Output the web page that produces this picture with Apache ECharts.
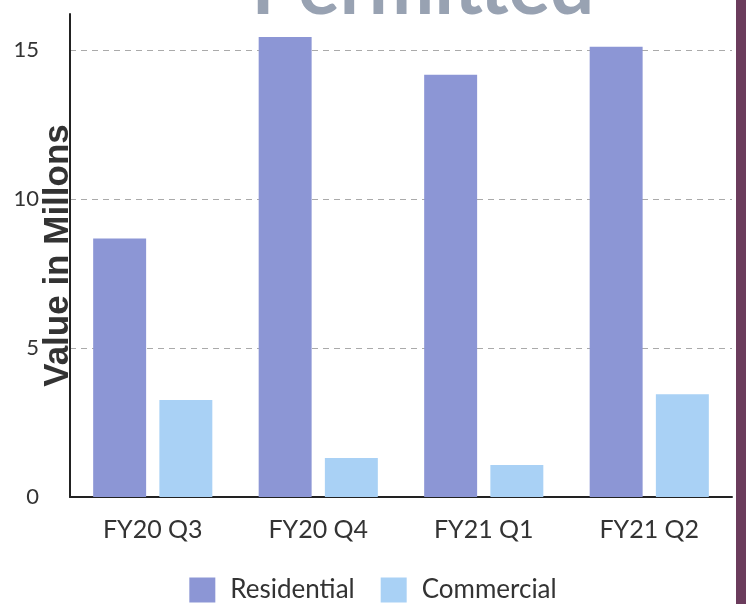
<!DOCTYPE html>
<html><head><meta charset="utf-8">
<script src="https://cdn.jsdelivr.net/npm/echarts@6/dist/echarts.min.js"></script>
<style>html,body{margin:0;padding:0;background:#fff}#c{width:746px;height:604px}</style>
</head><body><div id="c"></div>
<script>
const categories = ['FY20 Q3', 'FY20 Q4', 'FY21 Q1', 'FY21 Q2'];
const residential = [8.67, 15.43, 14.16, 15.1];
const commercial = [3.25, 1.31, 1.07, 3.45];
const yTicks = [0, 5, 10, 15];
const titleText = 'Permitted';
const yName = 'Value in Millons';

const chart = echarts.init(document.getElementById('c'), null, {renderer: 'canvas'});
chart.setOption({
  animation: false,
  backgroundColor: '#ffffff',
  graphic: [
    {type: 'text', x: 423, y: 28, z: 10, style: {text: titleText, fill: '#98a2b2', font: 'bold 78px Lato', textAlign: 'center', textVerticalAlign: 'bottom'}},
    {type: 'rect', shape: {x: 736, y: 0, width: 10, height: 604}, style: {fill: '#6b3c5c'}, z: 10}
  ],
  grid: {left: 70, right: 14, top: 14, bottom: 107, containLabel: false, outerBoundsMode: 'none'},
  legend: {
    top: 577, left: 'center', itemWidth: 26, itemHeight: 25, itemGap: 26, icon: 'rect', padding: 0,
    textStyle: {fontFamily: 'Lato', fontSize: 26, color: '#333', padding: [0, 0, 0, 10]},
    data: ['Residential', 'Commercial']
  },
  xAxis: {
    type: 'category', data: categories,
    axisLine: {lineStyle: {color: '#222', width: 2}},
    axisTick: {show: false},
    axisLabel: {fontFamily: 'Lato', fontSize: 25, color: '#333', margin: 20}
  },
  yAxis: {
    type: 'value', min: yTicks[0], max: 16.2, interval: 5,
    name: yName, nameLocation: 'middle', nameGap: -6, nameMoveOverlap: false,
    nameTextStyle: {fontFamily: 'Liberation Sans', fontWeight: 'bold', fontSize: 35, color: '#333'},
    axisLine: {show: true, lineStyle: {color: '#222', width: 2}},
    axisTick: {show: false},
    axisLabel: {fontFamily: 'Lato', fontSize: 22, color: '#333', margin: 31, showMaxLabel: false},
    splitLine: {show: true, showMaxLine: false, showMinLine: false, lineStyle: {color: '#aaa', width: 1, type: [6, 5]}}
  },
  series: [
    {name: 'Residential', type: 'bar', data: residential, barWidth: '32%', barGap: '25%', itemStyle: {color: '#8c96d5'}},
    {name: 'Commercial', type: 'bar', data: commercial, barWidth: '32%', itemStyle: {color: '#a9d1f5'}}
  ]
});
</script></body></html>
